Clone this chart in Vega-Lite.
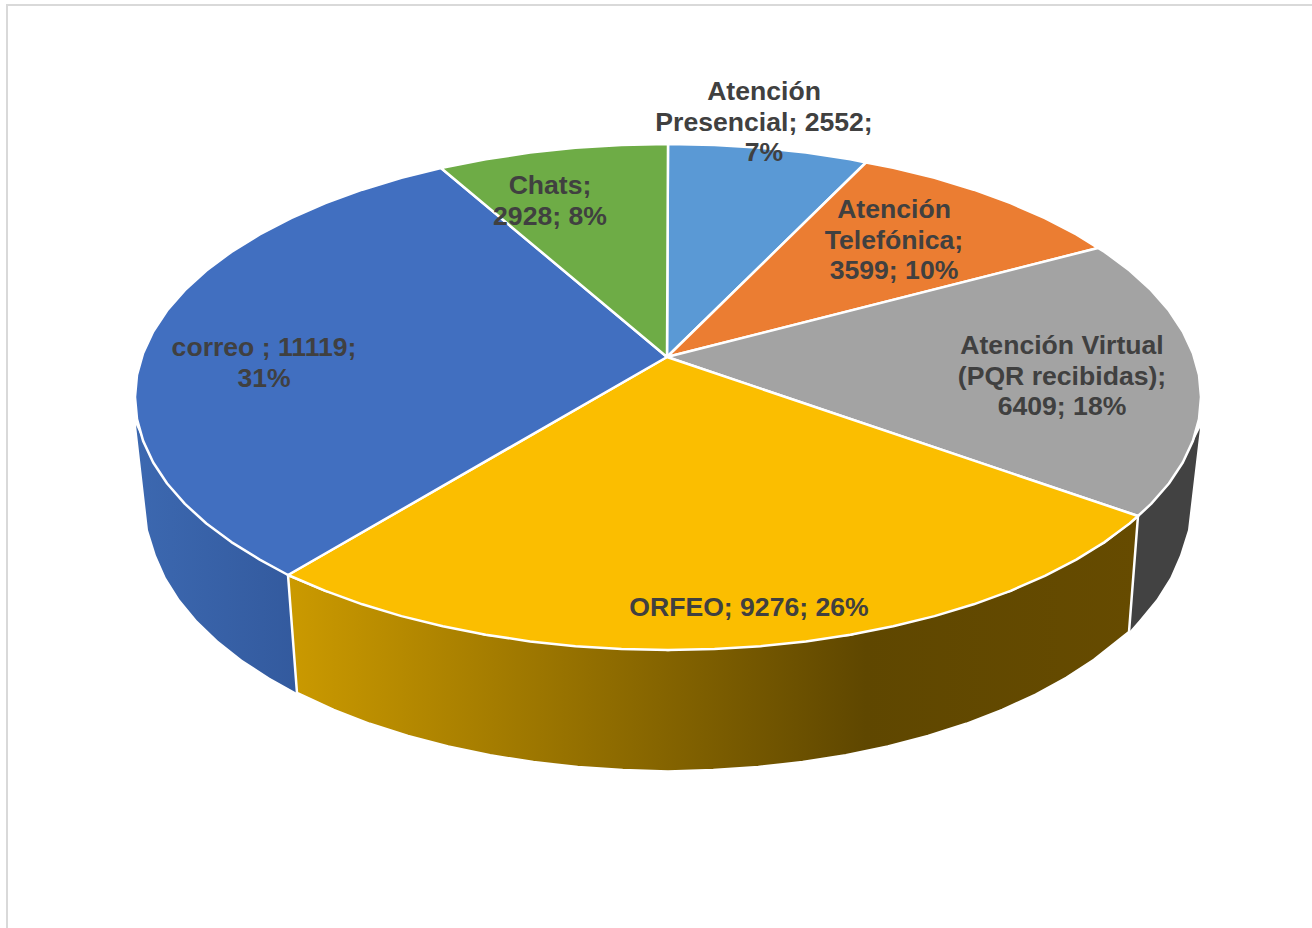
{
"$schema":"https://vega.github.io/schema/vega-lite/v6.json",
"width":1312,"height":928,"padding":0,"autosize":{"type":"none"},
"background":"white","view":{"stroke":null},
"datasets":{
"frame":[{"s":1,"x":7,"y":928},{"s":2,"x":7,"y":5},{"s":3,"x":1312,"y":5}],
"sideCorreo":[{"s":1,"x":288,"y":575},{"s":2,"x":231.4,"y":542.1},{"s":3,"x":184.9,"y":503.9},{"s":4,"x":153.2,"y":462.5},{"s":5,"x":136,"y":425},{"s":6,"x":148,"y":530},{"s":7,"x":155.9,"y":555.3},{"s":8,"x":165.7,"y":577.5},{"s":9,"x":179.4,"y":599.3},{"s":10,"x":196.7,"y":620.3},{"s":11,"x":217.7,"y":640.5},{"s":12,"x":242,"y":659.7},{"s":13,"x":269.7,"y":677.8},{"s":14,"x":297,"y":693},{"s":15,"x":288,"y":575}],
"sideOrfeo":[{"s":1,"x":288,"y":575},{"s":2,"x":297,"y":693},{"s":3,"x":333.7,"y":709.9},{"s":4,"x":369.7,"y":723.8},{"s":5,"x":408,"y":736},{"s":6,"x":448.2,"y":746.5},{"s":7,"x":490.2,"y":755.3},{"s":8,"x":533.4,"y":762.1},{"s":9,"x":577.7,"y":767},{"s":10,"x":622.7,"y":770},{"s":11,"x":668,"y":771.5},{"s":12,"x":713.3,"y":770},{"s":13,"x":758.3,"y":767},{"s":14,"x":802.6,"y":762.1},{"s":15,"x":845.8,"y":755.3},{"s":16,"x":887.8,"y":746.5},{"s":17,"x":928,"y":736},{"s":18,"x":966.3,"y":723.8},{"s":19,"x":1002.3,"y":709.9},{"s":20,"x":1035.7,"y":694.6},{"s":21,"x":1066.3,"y":677.8},{"s":22,"x":1094,"y":659.7},{"s":23,"x":1118.3,"y":640.5},{"s":24,"x":1129,"y":632},{"s":25,"x":1138,"y":516},{"s":26,"x":1104.6,"y":542.1},{"s":27,"x":1010.6,"y":590.8},{"s":28,"x":850.3,"y":634.7},{"s":29,"x":668,"y":650},{"s":30,"x":485.7,"y":634.7},{"s":31,"x":325.4,"y":590.8},{"s":32,"x":288,"y":575}],
"sideVirtual":[{"s":1,"x":1138,"y":516},{"s":2,"x":1151.1,"y":503.9},{"s":3,"x":1182.8,"y":462.5},{"s":4,"x":1200,"y":428},{"s":5,"x":1188,"y":530},{"s":7,"x":1180,"y":555.3},{"s":8,"x":1170.3,"y":577.5},{"s":9,"x":1156.6,"y":599.3},{"s":10,"x":1139.3,"y":620.3},{"s":11,"x":1129,"y":632},{"s":12,"x":1138,"y":516}],
"top":[
{"c":"Atención Presencial","s":1,"x":667,"y":357},{"c":"Atención Presencial","s":2,"x":668,"y":144},{"c":"Atención Presencial","s":3,"x":714.5,"y":145},{"c":"Atención Presencial","s":4,"x":760.6,"y":147.8},{"c":"Atención Presencial","s":5,"x":805.9,"y":152.6},{"c":"Atención Presencial","s":6,"x":850.3,"y":159.3},{"c":"Atención Presencial","s":7,"x":866,"y":162.5},{"c":"Atención Presencial","s":8,"x":667,"y":357},
{"c":"Atención Telefónica","s":1,"x":667,"y":357},{"c":"Atención Telefónica","s":2,"x":866,"y":162.5},{"c":"Atención Telefónica","s":3,"x":893.2,"y":167.7},{"c":"Atención Telefónica","s":4,"x":934.5,"y":177.9},{"c":"Atención Telefónica","s":5,"x":973.7,"y":189.7},{"c":"Atención Telefónica","s":6,"x":1010.6,"y":203.2},{"c":"Atención Telefónica","s":7,"x":1044.9,"y":218.1},{"c":"Atención Telefónica","s":8,"x":1076.3,"y":234.4},{"c":"Atención Telefónica","s":9,"x":1098,"y":248},{"c":"Atención Telefónica","s":10,"x":667,"y":357},
{"c":"Atención Virtual (PQR recibidas)","s":1,"x":667,"y":357},{"c":"Atención Virtual (PQR recibidas)","s":2,"x":1098,"y":248},{"c":"Atención Virtual (PQR recibidas)","s":3,"x":1104.6,"y":251.9},{"c":"Atención Virtual (PQR recibidas)","s":4,"x":1129.6,"y":270.5},{"c":"Atención Virtual (PQR recibidas)","s":5,"x":1151.1,"y":290.1},{"c":"Atención Virtual (PQR recibidas)","s":6,"x":1168.9,"y":310.5},{"c":"Atención Virtual (PQR recibidas)","s":7,"x":1182.8,"y":331.5},{"c":"Atención Virtual (PQR recibidas)","s":8,"x":1192.9,"y":353.1},{"c":"Atención Virtual (PQR recibidas)","s":9,"x":1199,"y":374.9},{"c":"Atención Virtual (PQR recibidas)","s":10,"x":1201,"y":397},{"c":"Atención Virtual (PQR recibidas)","s":11,"x":1199,"y":419.1},{"c":"Atención Virtual (PQR recibidas)","s":12,"x":1192.9,"y":440.9},{"c":"Atención Virtual (PQR recibidas)","s":13,"x":1182.8,"y":462.5},{"c":"Atención Virtual (PQR recibidas)","s":14,"x":1168.9,"y":483.5},{"c":"Atención Virtual (PQR recibidas)","s":15,"x":1151.1,"y":503.9},{"c":"Atención Virtual (PQR recibidas)","s":16,"x":1138,"y":516},{"c":"Atención Virtual (PQR recibidas)","s":17,"x":667,"y":357},
{"c":"ORFEO","s":1,"x":667,"y":357},{"c":"ORFEO","s":2,"x":1138,"y":516},{"c":"ORFEO","s":3,"x":1129.6,"y":523.5},{"c":"ORFEO","s":4,"x":1104.6,"y":542.1},{"c":"ORFEO","s":5,"x":1076.3,"y":559.6},{"c":"ORFEO","s":6,"x":1044.9,"y":575.9},{"c":"ORFEO","s":7,"x":1010.6,"y":590.8},{"c":"ORFEO","s":8,"x":973.7,"y":604.3},{"c":"ORFEO","s":9,"x":934.5,"y":616.1},{"c":"ORFEO","s":10,"x":893.2,"y":626.3},{"c":"ORFEO","s":11,"x":850.3,"y":634.7},{"c":"ORFEO","s":12,"x":805.9,"y":641.4},{"c":"ORFEO","s":13,"x":760.6,"y":646.2},{"c":"ORFEO","s":14,"x":714.5,"y":649},{"c":"ORFEO","s":15,"x":668,"y":650},{"c":"ORFEO","s":16,"x":621.5,"y":649},{"c":"ORFEO","s":17,"x":575.4,"y":646.2},{"c":"ORFEO","s":18,"x":530.1,"y":641.4},{"c":"ORFEO","s":19,"x":485.7,"y":634.7},{"c":"ORFEO","s":20,"x":442.8,"y":626.3},{"c":"ORFEO","s":21,"x":401.5,"y":616.1},{"c":"ORFEO","s":22,"x":362.3,"y":604.3},{"c":"ORFEO","s":23,"x":325.4,"y":590.8},{"c":"ORFEO","s":24,"x":288,"y":575},{"c":"ORFEO","s":25,"x":667,"y":357},
{"c":"correo","s":1,"x":667,"y":357},{"c":"correo","s":2,"x":288,"y":575},{"c":"correo","s":3,"x":259.7,"y":559.6},{"c":"correo","s":4,"x":231.4,"y":542.1},{"c":"correo","s":5,"x":206.4,"y":523.5},{"c":"correo","s":6,"x":184.9,"y":503.9},{"c":"correo","s":7,"x":167.1,"y":483.5},{"c":"correo","s":8,"x":153.2,"y":462.5},{"c":"correo","s":9,"x":143.1,"y":440.9},{"c":"correo","s":10,"x":137,"y":419.1},{"c":"correo","s":11,"x":135,"y":397},{"c":"correo","s":12,"x":137,"y":374.9},{"c":"correo","s":13,"x":143.1,"y":353.1},{"c":"correo","s":14,"x":153.2,"y":331.5},{"c":"correo","s":15,"x":167.1,"y":310.5},{"c":"correo","s":16,"x":184.9,"y":290.1},{"c":"correo","s":17,"x":206.4,"y":270.5},{"c":"correo","s":18,"x":231.4,"y":251.9},{"c":"correo","s":19,"x":259.7,"y":234.4},{"c":"correo","s":20,"x":291.1,"y":218.1},{"c":"correo","s":21,"x":325.4,"y":203.2},{"c":"correo","s":22,"x":362.3,"y":189.7},{"c":"correo","s":23,"x":401.5,"y":177.9},{"c":"correo","s":24,"x":441,"y":168},{"c":"correo","s":25,"x":667,"y":357},
{"c":"Chats","s":1,"x":667,"y":357},{"c":"Chats","s":2,"x":441,"y":168},{"c":"Chats","s":3,"x":485.7,"y":159.3},{"c":"Chats","s":4,"x":530.1,"y":152.6},{"c":"Chats","s":5,"x":575.4,"y":147.8},{"c":"Chats","s":6,"x":621.5,"y":145},{"c":"Chats","s":7,"x":668,"y":144},{"c":"Chats","s":8,"x":667,"y":357}
],
"slices":[
{"c":"Atención Presencial","value":2552,"pct":7,"label":"Atención\nPresencial; 2552;\n7%","lx":764,"ly":92},
{"c":"Atención Telefónica","value":3599,"pct":10,"label":"Atención\nTelefónica;\n3599; 10%","lx":894,"ly":210},
{"c":"Atención Virtual (PQR recibidas)","value":6409,"pct":18,"label":"Atención Virtual\n(PQR recibidas);\n6409; 18%","lx":1062,"ly":346},
{"c":"ORFEO","value":9276,"pct":26,"label":"ORFEO; 9276; 26%","lx":749,"ly":608},
{"c":"correo","value":11119,"pct":31,"label":"correo ; 11119;\n31%","lx":264,"ly":348},
{"c":"Chats","value":2928,"pct":8,"label":"Chats;\n2928; 8%","lx":550,"ly":186}
]
},
"encoding":{
"x":{"field":"x","type":"quantitative","axis":null,"scale":{"domain":[0,1312],"nice":false,"zero":false}},
"y":{"field":"y","type":"quantitative","axis":null,"scale":{"domain":[0,928],"reverse":true,"nice":false,"zero":false}},
"order":{"field":"s","type":"quantitative"}
},
"layer":[
{"data":{"name":"frame"},"mark":{"type":"line","stroke":"#d9d9d9","strokeWidth":2,"clip":true}},
{"data":{"name":"sideCorreo"},"mark":{"type":"line","stroke":"white","strokeWidth":0,"fill":{"gradient":"linear","x1":0,"y1":0,"x2":1,"y2":0,"stops":[{"offset":0,"color":"#3c68b0"},{"offset":1,"color":"#335a9e"}]}}},
{"data":{"name":"sideVirtual"},"mark":{"type":"line","stroke":"white","strokeWidth":0,"fill":"#424242"}},
{"data":{"name":"sideOrfeo"},"mark":{"type":"line","stroke":"white","strokeWidth":2.5,"fill":{"gradient":"linear","x1":0,"y1":0,"x2":1,"y2":0,"stops":[{"offset":0,"color":"#cb9a00"},{"offset":0.68,"color":"#5f4700"},{"offset":1,"color":"#664b00"}]}}},
{"data":{"name":"top"},"mark":{"type":"line","stroke":"white","strokeWidth":2.5,"strokeJoin":"round"},
"encoding":{"detail":{"field":"c","type":"nominal"},
"fill":{"field":"c","type":"nominal","legend":null,"scale":{"domain":["Atención Presencial","Atención Telefónica","Atención Virtual (PQR recibidas)","ORFEO","correo","Chats"],"range":["#5A99D5","#EB7D32","#A3A3A3","#FBBE00","#416FC0","#6EAC46"]}}}},
{"data":{"name":"slices"},"mark":{"type":"text","font":"Liberation Sans","fontWeight":"bold","fontSize":26.6,"color":"#404040","lineBreak":"\n","lineHeight":30.5,"align":"center","baseline":"middle"},
"encoding":{"x":{"field":"lx","type":"quantitative"},"y":{"field":"ly","type":"quantitative"},"text":{"field":"label","type":"nominal"},"order":null}}
]
}
